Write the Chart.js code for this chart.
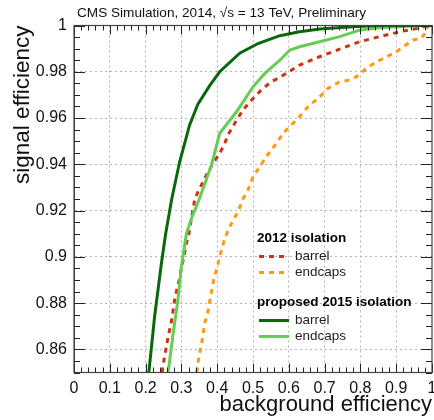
<!DOCTYPE html>
<html><head><meta charset="utf-8">
<script src="https://cdn.jsdelivr.net/npm/chart.js@4.4.1/dist/chart.umd.min.js"></script>
<style>html,body{margin:0;padding:0;background:#fff}#wrap{width:434px;height:420px}</style>
</head><body><div id="wrap"><canvas id="c" width="434" height="420"></canvas></div>
<script>
const titleText = 'CMS Simulation, 2014, \u221As = 13 TeV, Preliminary';
const xTitle = 'background efficiency';
const yTitle = 'signal efficiency';
const groupTitles = ['2012 isolation', 'proposed 2015 isolation'];
const seriesNames = ['barrel', 'endcaps', 'barrel', 'endcaps'];

// 2012 isolation, barrel
const bkg2012Barrel = [0.246,0.253,0.263,0.272,0.281,0.288,0.295,0.300,0.307,0.314,0.321,0.328,0.337,0.346,0.370,0.388,0.407,0.421,0.430,0.449,0.472,0.496,0.523,0.551,0.570,0.589,0.630,0.686,0.742,0.798,0.854,0.910,0.966,0.989,1.0];
const sig2012Barrel = [0.85,0.857,0.8655,0.872,0.8813,0.8864,0.8907,0.895,0.900,0.9058,0.910,0.9166,0.9246,0.928,0.9354,0.9404,0.9447,0.949,0.9527,0.9577,0.9635,0.9678,0.9721,0.9757,0.9772,0.9789,0.9829,0.9865,0.9898,0.993,0.9952,0.9973,0.999,1.0,1.0];
// 2012 isolation, endcaps
const bkg2012Endcaps = [0.343,0.349,0.356,0.365,0.374,0.384,0.390,0.399,0.407,0.421,0.435,0.458,0.472,0.486,0.500,0.519,0.537,0.565,0.584,0.607,0.630,0.654,0.682,0.709,0.742,0.770,0.789,0.817,0.845,0.873,0.901,0.919,0.947,0.970,0.984,0.989,1.0];
const sig2012Endcaps = [0.85,0.857,0.862,0.8712,0.8763,0.885,0.890,0.895,0.900,0.908,0.913,0.9195,0.925,0.9289,0.9346,0.939,0.9433,0.949,0.9534,0.957,0.9606,0.965,0.9685,0.9728,0.9757,0.9764,0.9779,0.9815,0.9843,0.9865,0.9887,0.9908,0.9937,0.9945,0.9973,1.0,1.0];
// proposed 2015 isolation, barrel
const bkg2015Barrel = [0.209,0.225,0.244,0.256,0.273,0.295,0.323,0.346,0.379,0.407,0.463,0.514,0.575,0.630,0.686,0.778,0.85,1.0];
const sig2015Barrel = [0.85,0.874,0.897,0.910,0.925,0.941,0.957,0.966,0.974,0.980,0.988,0.9922,0.9956,0.9973,0.9985,0.9995,1.0,1.0];
// proposed 2015 isolation, endcaps
const bkg2015Endcaps = [0.263,0.277,0.290,0.300,0.314,0.328,0.350,0.384,0.407,0.454,0.500,0.533,0.575,0.603,0.630,0.686,0.742,0.798,0.854,0.98,1.0];
const sig2015Endcaps = [0.85,0.867,0.881,0.8957,0.910,0.9166,0.925,0.9397,0.9534,0.9627,0.9735,0.9793,0.985,0.9894,0.9908,0.993,0.9952,0.998,0.999,1.0,1.0];

const toPts = (xs, ys) => xs.map((x, i) => ({x: x, y: ys[i]}));
const FONT = '"Liberation Sans", Arial, Helvetica, sans-serif';

const isMajorX = v => Math.abs(Math.round(v * 1000) % 100) === 0;
const isMajorY = v => Math.abs(Math.round(v * 1000) % 20) === 0;

const framePlugin = {
  id: 'frame',
  afterDatasetsDraw(chart) {
    const {ctx, chartArea: a, scales: {x, y}} = chart;
    ctx.save();
    ctx.strokeStyle = '#222';
    ctx.lineWidth = 1;
    ctx.beginPath();
    x.ticks.forEach(t => {
      const px = Math.round(x.getPixelForValue(t.value)) + 0.5;
      const len = isMajorX(t.value) ? 9 : 5;
      ctx.moveTo(px, a.bottom); ctx.lineTo(px, a.bottom - len);
      ctx.moveTo(px, a.top); ctx.lineTo(px, a.top + len);
    });
    y.ticks.forEach(t => {
      const py = Math.round(y.getPixelForValue(t.value)) + 0.5;
      const len = isMajorY(t.value) ? 11 : 6;
      ctx.moveTo(a.left, py); ctx.lineTo(a.left + len, py);
      ctx.moveTo(a.right, py); ctx.lineTo(a.right - len, py);
    });
    ctx.stroke();
    ctx.strokeStyle = '#444';
    ctx.lineWidth = 1.2;
    ctx.strokeRect(a.left, a.top, a.right - a.left, a.bottom - a.top);
    ctx.restore();
  },
  afterDraw(chart) {
    const {ctx, chartArea: a} = chart;
    ctx.save();
    ctx.fillStyle = '#111';
    ctx.font = '13.6px ' + FONT;
    ctx.textBaseline = 'middle';
    ctx.textAlign = 'left';
    ctx.fillText(titleText, a.left + 3, 13);
    // legend
    const ds = chart.data.datasets;
    const lx = a.left + 183;
    const rows = [
      {type: 'head', text: groupTitles[0], y: a.top + 213},
      {type: 'item', ds: 0, y: a.top + 231},
      {type: 'item', ds: 1, y: a.top + 247},
      {type: 'head', text: groupTitles[1], y: a.top + 277},
      {type: 'item', ds: 2, y: a.top + 295},
      {type: 'item', ds: 3, y: a.top + 311}
    ];
    rows.forEach(r => {
      if (r.type === 'head') {
        ctx.font = 'bold 13.5px ' + FONT;
        ctx.fillStyle = '#000';
        ctx.fillText(r.text, lx, r.y);
      } else {
        const d = ds[r.ds];
        ctx.strokeStyle = d.borderColor;
        ctx.lineWidth = 3;
        ctx.setLineDash(d.borderDash || []);
        ctx.beginPath();
        ctx.moveTo(lx + 2, r.y); ctx.lineTo(lx + 32, r.y);
        ctx.stroke();
        ctx.setLineDash([]);
        ctx.font = '13.5px ' + FONT;
        ctx.fillStyle = '#222';
        ctx.fillText(d.label, lx + 38, r.y);
      }
    });
    ctx.restore();
  }
};

new Chart(document.getElementById('c'), {
  type: 'line',
  data: {
    datasets: [
      {label: seriesNames[0], data: toPts(bkg2012Barrel, sig2012Barrel), borderColor: '#cc3311', borderDash: [5, 5], order: 2},
      {label: seriesNames[1], data: toPts(bkg2012Endcaps, sig2012Endcaps), borderColor: '#ff9910', borderDash: [5, 5], order: 3},
      {label: seriesNames[2], data: toPts(bkg2015Barrel, sig2015Barrel), borderColor: '#0b670b', order: 0},
      {label: seriesNames[3], data: toPts(bkg2015Endcaps, sig2015Endcaps), borderColor: '#66cc55', order: 1}
    ].map(d => Object.assign({borderWidth: 3, pointRadius: 0, tension: 0, fill: false}, d))
  },
  options: {
    responsive: false,
    animation: false,
    devicePixelRatio: 1,
    layout: {padding: {top: 25.5, right: 2, left: 0, bottom: 0}},
    plugins: {legend: {display: false}, tooltip: {enabled: false}},
    scales: {
      x: {
        type: 'linear', min: 0, max: 1, position: 'bottom',
        afterFit: s => { s.height = 47.5; s.paddingLeft = 0; s.paddingRight = 0; },
        ticks: {
          stepSize: 0.02, autoSkip: false, maxRotation: 0, padding: 6,
          color: '#111', font: {family: FONT, size: 16},
          callback: v => isMajorX(v) ? String(Math.round(v * 10) / 10) : ''
        },
        grid: {drawTicks: false, lineWidth: 1, color: c => (c.tick && isMajorX(c.tick.value) && c.tick.value > 0 && c.tick.value < 1) ? '#b4b4b4' : 'rgba(0,0,0,0)'},
        border: {display: true, color: '#444', width: 1, dash: [2, 3]},
        title: {display: true, text: xTitle, align: 'end', color: '#111', font: {family: FONT, size: 22}, padding: {top: 0, bottom: 2}}
      },
      y: {
        type: 'linear', min: 0.85, max: 1,
        afterFit: s => { s.width = 74; s.paddingTop = 0; s.paddingBottom = 0; },
        ticks: {
          stepSize: 0.005, autoSkip: false, padding: 7,
          color: '#111', font: {family: FONT, size: 16},
          callback: v => isMajorY(v) ? String(Math.round(v * 100) / 100) : ''
        },
        grid: {drawTicks: false, lineWidth: 1, color: c => (c.tick && isMajorY(c.tick.value) && c.tick.value > 0.851 && c.tick.value < 0.999) ? '#b4b4b4' : 'rgba(0,0,0,0)'},
        border: {display: true, color: '#444', width: 1, dash: [2, 3]},
        title: {display: true, text: yTitle, align: 'end', color: '#111', font: {family: FONT, size: 22.5}, padding: {top: 9, bottom: 0}}
      }
    }
  },
  plugins: [framePlugin]
});
</script>
</body></html>
